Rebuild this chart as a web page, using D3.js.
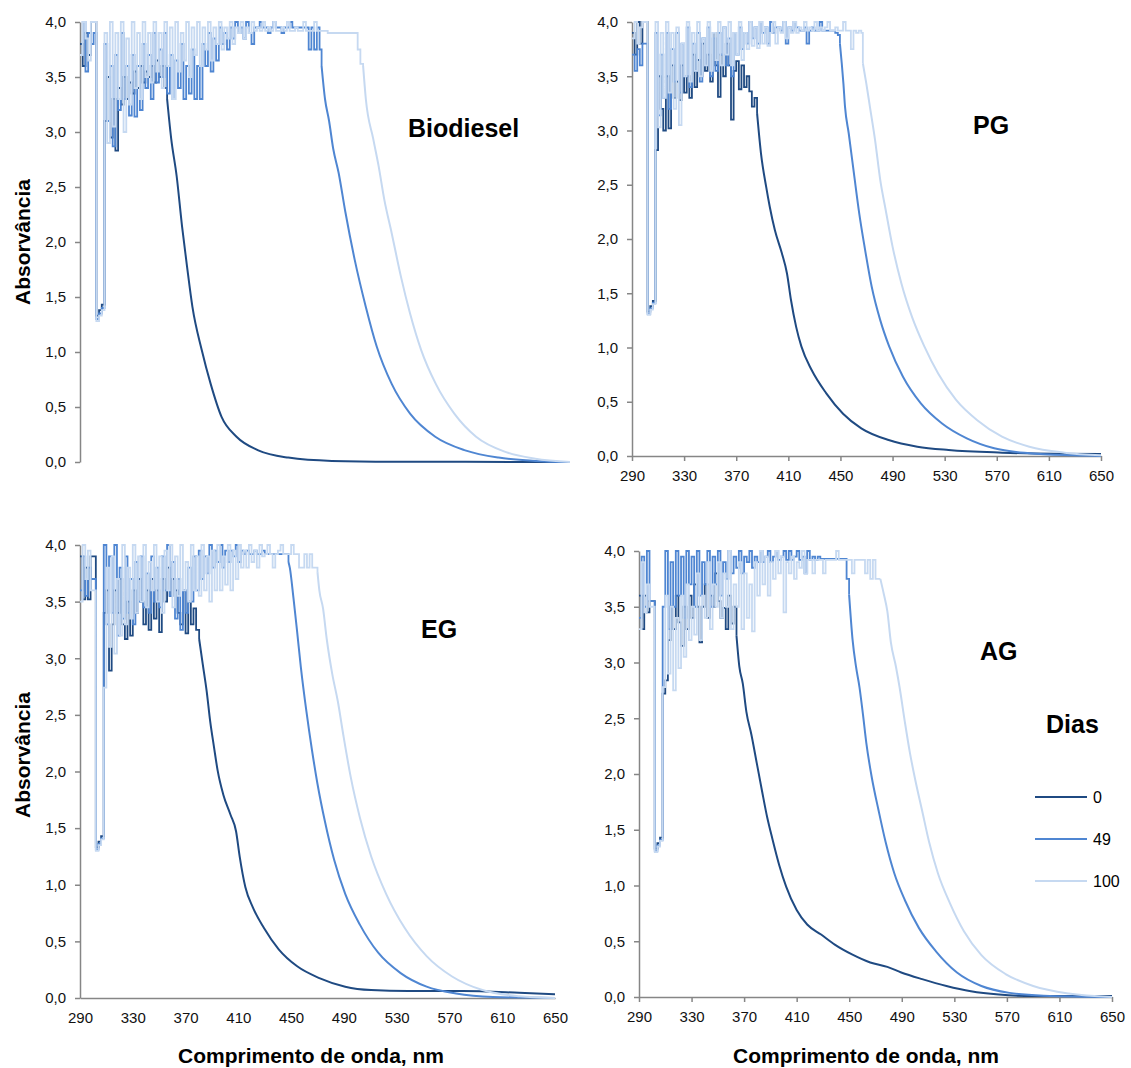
<!DOCTYPE html>
<html>
<head>
<meta charset="utf-8">
<script src="https://cdn.jsdelivr.net/npm/d3@7"></script>
<style>
  body { margin: 0; background: #fff; }
  text { font-family: "Liberation Sans", Arial, sans-serif; }
</style>
</head>
<body>
<svg id="chart" width="1131" height="1068"></svg>
<script>
// noisy part of each spectrum: one value every 2 nm starting at 290 nm
var noiseStart = 290, noiseStep = 2;

var days = ['0', '49', '100'];
var xTicks = [290, 330, 370, 410, 450, 490, 530, 570, 610, 650];
var yTicks = [0, 0.5, 1, 1.5, 2, 2.5, 3, 3.5, 4];

// ---- Biodiesel ----
var bio0Noise = [3.8, 3.6, 3.9, 3.7, 4.0, 4.0, 1.33, 1.38, 1.43, 3.1, 3.5, 2.95, 3.3, 2.83, 3.4, 3.25, 3.5, 3.3, 3.45, 3.35,
  3.55, 3.4, 3.6, 3.45, 3.55, 3.5, 3.6, 3.45, 3.65, 3.5, 3.6, 3.4];
var bio0Tail = [[354, 3.30], [357, 2.94], [361, 2.60], [365, 2.14], [368.6, 1.78], [372.6, 1.41], [379.4, 1.02], [386, 0.71],
  [394, 0.41], [405, 0.23], [421, 0.106], [443, 0.04], [475, 0.01], [520, 0.003], [650, 0.0]];
var bio49Noise = [3.7, 4.0, 3.55, 3.9, 3.8, 3.9, 1.30, 1.35, 1.40, 3.8, 3.1, 3.6, 2.87, 3.7, 3.2, 3.9, 3.3, 3.6, 3.15, 3.7,
  3.14, 3.6, 3.2, 3.8, 3.4, 3.7, 3.3, 3.9, 3.45, 3.75, 3.5, 3.9, 3.35, 3.7, 3.3, 3.65, 3.4, 3.8, 3.3, 3.6,
  3.35, 3.75, 3.3, 3.6, 3.3, 3.8, 3.6, 3.9, 3.55, 3.85, 3.65, 3.95, 3.8, 3.9, 3.75, 3.95, 3.85, 4.0, 3.9, 3.95,
  3.85, 4.0, 3.9, 3.8, 3.95, 3.95, 4.0, 3.95, 3.95, 3.9, 3.95, 4.0, 3.95, 3.95, 3.9, 3.95, 3.95, 4.0, 3.95, 3.95,
  3.95, 3.95, 3.95, 3.95, 3.75, 3.95, 3.75, 3.95, 3.75];
var bio49Tail = [[467.5, 3.6], [470, 3.3], [473, 3.1], [476, 2.85], [480, 2.63], [485, 2.27], [491.8, 1.84], [500, 1.41],
  [508, 1.05], [519, 0.71], [532.5, 0.44], [551, 0.23], [573, 0.106], [597.5, 0.04], [624.5, 0.01], [650, 0]];
var bio100Noise = [3.7, 4.0, 3.85, 3.65, 4.0, 4.0, 1.28, 1.33, 1.38, 3.9, 2.9, 4.0, 3.05, 3.9, 3.3, 4.0, 3.0, 3.85, 3.25, 4.0,
  3.4, 3.9, 3.3, 4.0, 3.5, 3.9, 3.45, 4.0, 3.55, 3.9, 3.4, 4.0, 3.6, 3.95, 3.3, 4.0, 3.55, 3.9, 3.65, 4.0,
  3.5, 3.95, 3.7, 4.0, 3.6, 3.95, 3.75, 4.0, 3.65, 3.95, 3.8, 4.0, 3.75, 3.95, 3.85, 4.0, 3.8, 3.95, 3.9, 4.0,
  3.85, 3.95, 3.9, 4.0, 3.92, 3.95, 3.92, 4.0, 3.92, 3.95, 3.92, 4.0, 3.92, 3.92, 3.95, 3.92, 4.0, 3.92, 3.92, 3.95,
  3.92, 3.92, 4.0, 3.92, 3.92, 3.92, 4.0, 3.92, 3.92, 3.92, 3.92, 3.9, 3.9, 3.9, 3.9, 3.9, 3.9, 3.9, 3.9, 3.9,
  3.9, 3.9, 3.75, 3.62];
var bio100Tail = [[498, 3.6], [500, 3.3], [505.4, 2.94], [509.4, 2.69], [513.5, 2.39], [519, 2.08], [525.7, 1.69], [532.5, 1.35],
  [540.6, 1.02], [551.4, 0.71], [565, 0.44], [581, 0.23], [603, 0.09], [624.5, 0.03], [650, 0]];

// ---- PG ----
var pg0Noise = [3.9, 3.7, 4.0, 3.8, 4.0, 4.0, 1.33, 1.38, 1.43, 2.82, 3.5, 3.2, 3.0, 3.5, 3.02, 3.6, 3.3, 3.45, 3.28, 3.6,
  3.35, 3.5, 3.3, 3.7, 3.4, 3.65, 3.5, 3.8, 3.55, 3.7, 3.45, 3.9, 3.6, 3.31, 3.7, 3.5, 3.8, 3.6, 3.1, 3.55,
  3.64, 3.38, 3.6, 3.4, 3.5, 3.36, 3.22, 3.3];
var pg0Tail = [[386, 3.16], [389, 2.79], [393, 2.48], [395.7, 2.30], [399.7, 2.08], [405, 1.87], [409, 1.68], [412, 1.44],
  [416, 1.19], [420, 1.01], [428, 0.79], [439, 0.58], [452, 0.39], [466, 0.255], [487, 0.147], [509, 0.086], [533, 0.055],
  [574, 0.031], [614, 0.02], [650, 0.018]];
var pg49Noise = [3.7, 3.55, 3.75, 3.6, 3.8, 3.8, 1.31, 1.36, 1.41, 3.9, 3.14, 3.7, 3.3, 3.9, 3.2, 3.75, 3.45, 3.9, 3.35, 3.8,
  3.5, 3.95, 3.4, 3.8, 3.55, 3.9, 3.45, 3.85, 3.6, 3.95, 3.5, 3.85, 3.55, 3.9, 3.7, 3.95, 3.6, 3.85, 3.5, 3.9,
  3.7, 3.95, 3.75, 3.9, 3.8, 4.0, 3.85, 3.95, 3.8, 4.0, 3.9, 3.95, 3.8, 4.0, 3.9, 3.95, 3.95, 3.92, 4.0, 3.8,
  3.95, 3.92, 4.0, 3.95, 3.92, 3.92, 3.95, 3.8, 3.92, 3.95, 3.92, 3.92, 4.0, 3.92, 3.92, 3.92, 3.92, 3.92, 3.9, 3.88];
var pg49Tail = [[449.6, 3.8], [451, 3.62], [452.3, 3.43], [453.5, 3.22], [456.4, 2.97], [460.4, 2.60], [464.5, 2.23],
  [468.5, 1.93], [474, 1.56], [480.6, 1.25], [487.4, 1.01], [498, 0.73], [511.7, 0.485], [528, 0.30], [547, 0.163],
  [568, 0.071], [595, 0.025], [628, 0.006], [650, 0]];
var pg100Noise = [3.85, 4.0, 3.8, 3.95, 4.0, 4.0, 1.30, 1.35, 1.40, 4.0, 3.03, 3.9, 3.3, 4.0, 3.35, 3.9, 3.2, 3.95, 3.05, 3.8,
  3.5, 4.0, 3.45, 3.9, 3.55, 4.0, 3.5, 3.85, 3.6, 4.0, 3.55, 3.9, 3.65, 4.0, 3.6, 3.95, 3.7, 4.0, 3.6, 3.9,
  3.7, 4.0, 3.65, 3.9, 3.75, 4.0, 3.78, 3.95, 3.76, 4.0, 3.8, 3.95, 3.78, 3.9, 4.0, 3.8, 3.95, 3.9, 4.0, 3.85,
  3.95, 3.9, 4.0, 3.9, 3.95, 3.92, 4.0, 3.92, 3.95, 3.92, 4.0, 3.92, 3.95, 3.92, 3.95, 4.0, 3.92, 3.92, 3.95, 3.92,
  3.92, 4.0, 3.92, 3.92, 3.75, 3.92, 3.9, 3.92, 3.9];
var pg100Tail = [[467.2, 3.62], [469.9, 3.43], [472.6, 3.22], [476.6, 2.91], [480.6, 2.54], [484.7, 2.27], [490, 1.93],
  [496.8, 1.59], [505, 1.28], [514.4, 1.01], [525, 0.76], [538.6, 0.52], [555, 0.33], [574, 0.178], [595, 0.086],
  [622, 0.031], [650, 0.006]];

// ---- EG ----
var eg0Noise = [3.9, 3.52, 3.8, 3.52, 3.9, 3.9, 1.33, 1.38, 1.43, 3.4, 3.6, 2.89, 3.3, 3.6, 3.4, 3.7, 3.3, 3.17, 3.5, 3.2,
  3.6, 3.4, 3.7, 3.5, 3.3, 3.6, 3.25, 3.7, 3.35, 3.6, 3.23, 3.7, 3.5, 3.8, 3.55, 3.7, 3.6, 3.4, 3.3, 3.6,
  3.22, 3.5, 3.3, 3.44, 3.25];
var eg0Tail = [[380.3, 3.17], [383, 2.95], [386, 2.71], [388.7, 2.44], [391.5, 2.22], [394.3, 2.01], [398.5, 1.80],
  [404, 1.62], [408.3, 1.47], [411, 1.25], [415.3, 0.98], [421, 0.80], [429.3, 0.62], [440.6, 0.43], [454.6, 0.28],
  [471.4, 0.176], [491, 0.10], [510.6, 0.07], [538.7, 0.061], [580, 0.061], [622.8, 0.046], [650, 0.033]];
var eg49Noise = [3.6, 3.9, 3.55, 3.8, 3.7, 3.7, 1.31, 1.36, 1.41, 4.0, 3.3, 3.9, 3.4, 4.0, 3.2, 3.8, 3.35, 3.9, 3.4, 3.7,
  3.3, 3.85, 3.5, 3.9, 3.45, 3.75, 3.4, 3.9, 3.5, 3.8, 3.45, 3.9, 3.6, 4.0, 3.55, 3.85, 3.35, 3.7, 3.25, 3.6,
  3.4, 3.8, 3.5, 3.9, 3.6, 3.95, 3.7, 3.9, 3.75, 4.0, 3.8, 3.95, 3.85, 4.0, 3.8, 3.95, 3.85, 3.95, 3.9, 4.0,
  3.85, 3.95, 3.92, 3.95, 3.92, 3.92, 3.95, 3.92, 3.92, 3.95, 3.92, 3.92, 3.92, 3.92, 3.92, 3.92, 3.92, 3.92, 3.92];
var eg49Tail = [[448, 3.85], [449, 3.80], [451.8, 3.53], [454.6, 3.23], [457.4, 2.92], [461.6, 2.53], [465.8, 2.19],
  [470, 1.89], [475.6, 1.56], [482.6, 1.22], [491, 0.92], [502, 0.65], [516, 0.40], [533, 0.22], [552.7, 0.10],
  [575, 0.039], [603, 0.009], [650, 0]];
var eg100Noise = [3.5, 4.0, 3.7, 3.95, 3.6, 3.6, 1.30, 1.35, 1.40, 2.74, 3.8, 3.1, 3.9, 3.04, 3.7, 3.2, 4.0, 3.3, 3.8, 3.35,
  4.0, 3.4, 3.9, 3.5, 4.0, 3.45, 3.85, 3.6, 4.0, 3.5, 3.9, 3.4, 3.95, 3.6, 4.0, 3.45, 3.9, 3.55, 4.0, 3.6,
  3.85, 3.5, 4.0, 3.6, 3.9, 3.55, 4.0, 3.6, 3.9, 3.5, 3.95, 3.6, 4.0, 3.6, 3.9, 3.65, 4.0, 3.6, 3.95, 3.7,
  4.0, 3.8, 3.95, 3.8, 4.0, 3.85, 3.95, 3.8, 4.0, 3.9, 3.92, 4.0, 3.92, 3.8, 3.92, 3.95, 4.0, 3.92, 3.92, 3.92,
  4.0, 3.92, 3.92, 3.8, 3.8, 3.92, 3.8, 3.92, 3.8, 3.8];
var eg100Tail = [[470, 3.76], [471.4, 3.6], [474.2, 3.44], [477, 3.17], [481.2, 2.86], [485.4, 2.62], [489.6, 2.32],
  [495.2, 1.95], [502.2, 1.59], [510.7, 1.25], [522, 0.92], [536, 0.62], [552.7, 0.37], [572, 0.19], [595, 0.07],
  [623, 0.015], [650, 0]];

// ---- AG ----
var ag0Noise = [3.6, 3.3, 3.6, 3.45, 3.55, 3.55, 1.33, 1.38, 1.43, 2.72, 2.84, 3.2, 3.5, 3.3, 3.6, 3.36, 3.15, 3.5, 3.3, 3.6,
  3.4, 3.7, 3.5, 3.18, 3.5, 3.7, 3.4, 3.6, 3.5, 3.8, 3.55, 3.4, 3.49, 3.3, 3.6, 3.35, 3.5];
var ag0Tail = [[364.2, 3.24], [366.4, 2.96], [369, 2.81], [371.7, 2.56], [375.6, 2.35], [379.6, 2.10], [383.6, 1.85],
  [387.6, 1.61], [391.5, 1.42], [396.8, 1.18], [402, 0.99], [410, 0.78], [418, 0.65], [428.6, 0.56], [439, 0.47],
  [452.5, 0.38], [466, 0.31], [479, 0.27], [489.6, 0.22], [505.5, 0.16], [524, 0.099], [542.6, 0.052], [564, 0.022],
  [590, 0.008], [650, 0.008]];
var ag49Noise = [3.4, 3.95, 3.5, 4.0, 3.55, 3.55, 1.31, 1.36, 1.41, 3.5, 4.0, 3.3, 3.9, 3.5, 4.0, 3.6, 3.95, 3.4, 4.0, 3.7,
  3.95, 3.5, 4.0, 3.6, 3.9, 3.7, 4.0, 3.5, 3.95, 3.7, 4.0, 3.6, 3.9, 3.75, 4.0, 3.8, 3.95, 3.85, 4.0, 3.8,
  3.95, 3.9, 4.0, 3.85, 3.95, 3.9, 4.0, 3.9, 3.95, 4.0, 3.9, 3.95, 4.0, 3.92, 3.95, 4.0, 3.92, 4.0, 3.92, 3.95,
  4.0, 3.92, 3.95, 3.8, 4.0, 3.92, 3.95, 3.92, 3.95, 3.93, 3.93, 3.93, 3.93, 3.93, 3.93, 3.93, 3.93, 3.93, 3.93, 3.75];
var ag49Tail = [[449.9, 3.61], [452.5, 3.21], [455.2, 2.96], [457.8, 2.78], [460.5, 2.53], [463, 2.28], [467, 1.98],
  [472.4, 1.67], [477.7, 1.39], [484.3, 1.11], [492.3, 0.87], [503, 0.62], [516, 0.41], [532, 0.22], [550.6, 0.099],
  [572, 0.037], [598, 0.012], [650, 0]];
var ag100Noise = [3.3, 3.9, 3.45, 3.7, 3.5, 3.5, 1.30, 1.35, 1.40, 2.78, 3.6, 2.9, 3.5, 2.75, 3.4, 2.95, 3.6, 3.05, 3.7, 3.2,
  3.5, 3.25, 3.8, 3.2, 3.6, 3.4, 3.9, 3.3, 3.7, 3.5, 3.9, 3.4, 3.8, 3.5, 4.0, 3.3, 3.7, 3.5, 3.9, 3.3,
  3.8, 3.4, 3.7, 3.28, 3.9, 3.6, 4.0, 3.7, 3.95, 3.6, 3.9, 3.75, 4.0, 3.8, 3.95, 3.45, 3.9, 3.8, 3.95, 3.75,
  3.9, 3.85, 4.0, 3.8, 3.92, 3.92, 3.8, 3.92, 3.92, 3.92, 3.8, 3.92, 3.92, 3.92, 3.92, 4.0, 3.92, 3.92, 3.92, 3.92,
  3.92, 3.8, 3.92, 3.92, 3.92, 3.92, 3.8, 3.92, 3.75, 3.92, 3.75, 3.75];
var ag100Tail = [[473.7, 3.75], [476.4, 3.61], [479, 3.46], [481.7, 3.18], [485.6, 2.96], [488.3, 2.78], [492.3, 2.47],
  [496.2, 2.19], [500.2, 1.95], [505.5, 1.67], [510.8, 1.39], [517.5, 1.11], [526.7, 0.84], [537.3, 0.59],
  [550.6, 0.376], [569, 0.206], [590, 0.099], [617, 0.031], [650, 0]];

// noisy part as [nm, A] points, closed with the first point of the smooth tail
function noisy(noise, tail) {
    return noise.map(function (a, i) { return [noiseStart + i * noiseStep, a]; }).concat([tail[0]]);
}

var colors = ['#1f4a82', '#4f86d2', '#c6d9f1'];
var axisColor = '#868686';

var svg = d3.select('#chart');

var panels = [
    {label: 'Biodiesel', lx: 408, ly: 137, left: 80, right: 570, top: 22, bottom: 462,
        xAxis: false, xTickSize: 0, yTitleY: 242, xTitleX: null,
        noise: [bio0Noise, bio49Noise, bio100Noise], tails: [bio0Tail, bio49Tail, bio100Tail]},
    {label: 'PG', lx: 973, ly: 134, left: 632, right: 1101, top: 22, bottom: 456,
        xAxis: true, xTickSize: 5, yTitleY: null, xTitleX: null,
        noise: [pg0Noise, pg49Noise, pg100Noise], tails: [pg0Tail, pg49Tail, pg100Tail]},
    {label: 'EG', lx: 421, ly: 638, left: 80, right: 555, top: 545, bottom: 998,
        xAxis: true, xTickSize: 0, yTitleY: 755, xTitleX: 311,
        noise: [eg0Noise, eg49Noise, eg100Noise], tails: [eg0Tail, eg49Tail, eg100Tail]},
    {label: 'AG', lx: 980, ly: 660, left: 639, right: 1112, top: 551, bottom: 997,
        xAxis: true, xTickSize: 5, yTitleY: null, xTitleX: 866,
        noise: [ag0Noise, ag49Noise, ag100Noise], tails: [ag0Tail, ag49Tail, ag100Tail]}
];

panels.forEach(function (p, pi) {
    var x = d3.scaleLinear().domain([290, 650]).range([p.left, p.right]);
    var y = d3.scaleLinear().domain([0, 4]).range([p.bottom, p.top]);
    var g = svg.append('g');

    svg.append('clipPath').attr('id', 'clip' + pi)
        .append('rect')
        .attr('x', p.left).attr('y', p.top - 1)
        .attr('width', p.right - p.left + 2).attr('height', p.bottom - p.top + 2);

    // y axis
    var ya = g.append('g')
        .attr('transform', 'translate(' + p.left + ',0)')
        .call(d3.axisLeft(y).tickValues(yTicks).tickSize(5).tickSizeOuter(0)
            .tickFormat(function (d) { return d.toFixed(1).replace('.', ','); }));
    ya.select('.domain').attr('stroke', axisColor).attr('stroke-width', 1.5);
    ya.selectAll('.tick line').attr('stroke', axisColor).attr('stroke-width', 1.5);
    ya.selectAll('.tick text').attr('x', -14).attr('font-size', 15)
        .attr('font-family', '"Liberation Sans", Arial, sans-serif').attr('fill', '#111');

    // x axis
    if (p.xAxis) {
        var xa = g.append('g')
            .attr('transform', 'translate(0,' + p.bottom + ')')
            .call(d3.axisBottom(x).tickValues(xTicks).tickSize(p.xTickSize).tickSizeOuter(0));
        xa.select('.domain').attr('stroke', axisColor).attr('stroke-width', 1.5);
        xa.selectAll('.tick line').attr('stroke', axisColor).attr('stroke-width', 1.5);
        xa.selectAll('.tick text').attr('y', 14).attr('font-size', 15)
            .attr('font-family', '"Liberation Sans", Arial, sans-serif').attr('fill', '#111');
    }

    var stepLine = d3.line()
        .x(function (d) { return x(d[0]); })
        .y(function (d) { return y(Math.min(d[1], 4)); })
        .curve(d3.curveStepAfter);
    var smoothLine = d3.line()
        .x(function (d) { return x(d[0]); })
        .y(function (d) { return y(d[1]); })
        .curve(d3.curveMonotoneX);

    var lines = g.append('g').attr('clip-path', 'url(#clip' + pi + ')');
    p.noise.forEach(function (n, i) {
        var c = colors[i];
        lines.append('path')
            .datum(noisy(n, p.tails[i]))
            .attr('d', stepLine)
            .attr('fill', 'none').attr('stroke', c).attr('stroke-width', 1.8);
        lines.append('path')
            .datum(p.tails[i])
            .attr('d', smoothLine)
            .attr('fill', 'none').attr('stroke', c).attr('stroke-width', 2)
            .attr('stroke-linejoin', 'round');
    });

    g.append('text')
        .attr('x', p.lx).attr('y', p.ly)
        .attr('font-size', 25).attr('font-weight', 'bold')
        .text(p.label);

    if (p.yTitleY) {
        g.append('text')
            .attr('transform', 'translate(30,' + p.yTitleY + ') rotate(-90)')
            .attr('text-anchor', 'middle')
            .attr('font-size', 21).attr('font-weight', 'bold')
            .text('Absorvância');
    }
    if (p.xTitleX) {
        g.append('text')
            .attr('x', p.xTitleX).attr('y', 1063)
            .attr('text-anchor', 'middle')
            .attr('font-size', 21).attr('font-weight', 'bold')
            .text('Comprimento de onda, nm');
    }
});

// legend
var legend = svg.append('g');
legend.append('text')
    .attr('x', 1046).attr('y', 733)
    .attr('font-size', 25).attr('font-weight', 'bold')
    .text('Dias');
var ly = d3.scalePoint().domain(days).range([797, 881]);
var items = legend.selectAll('g.item')
    .data(days)
    .enter()
    .append('g')
    .attr('class', 'item')
    .attr('transform', function (d) { return 'translate(0,' + ly(d) + ')'; });
items.append('line')
    .attr('x1', 1035).attr('x2', 1087)
    .attr('stroke', function (d, i) { return colors[i]; })
    .attr('stroke-width', 2);
items.append('text')
    .attr('x', 1093).attr('dy', '0.35em')
    .attr('font-size', 16)
    .text(function (d) { return d; });
</script>
</body>
</html>
